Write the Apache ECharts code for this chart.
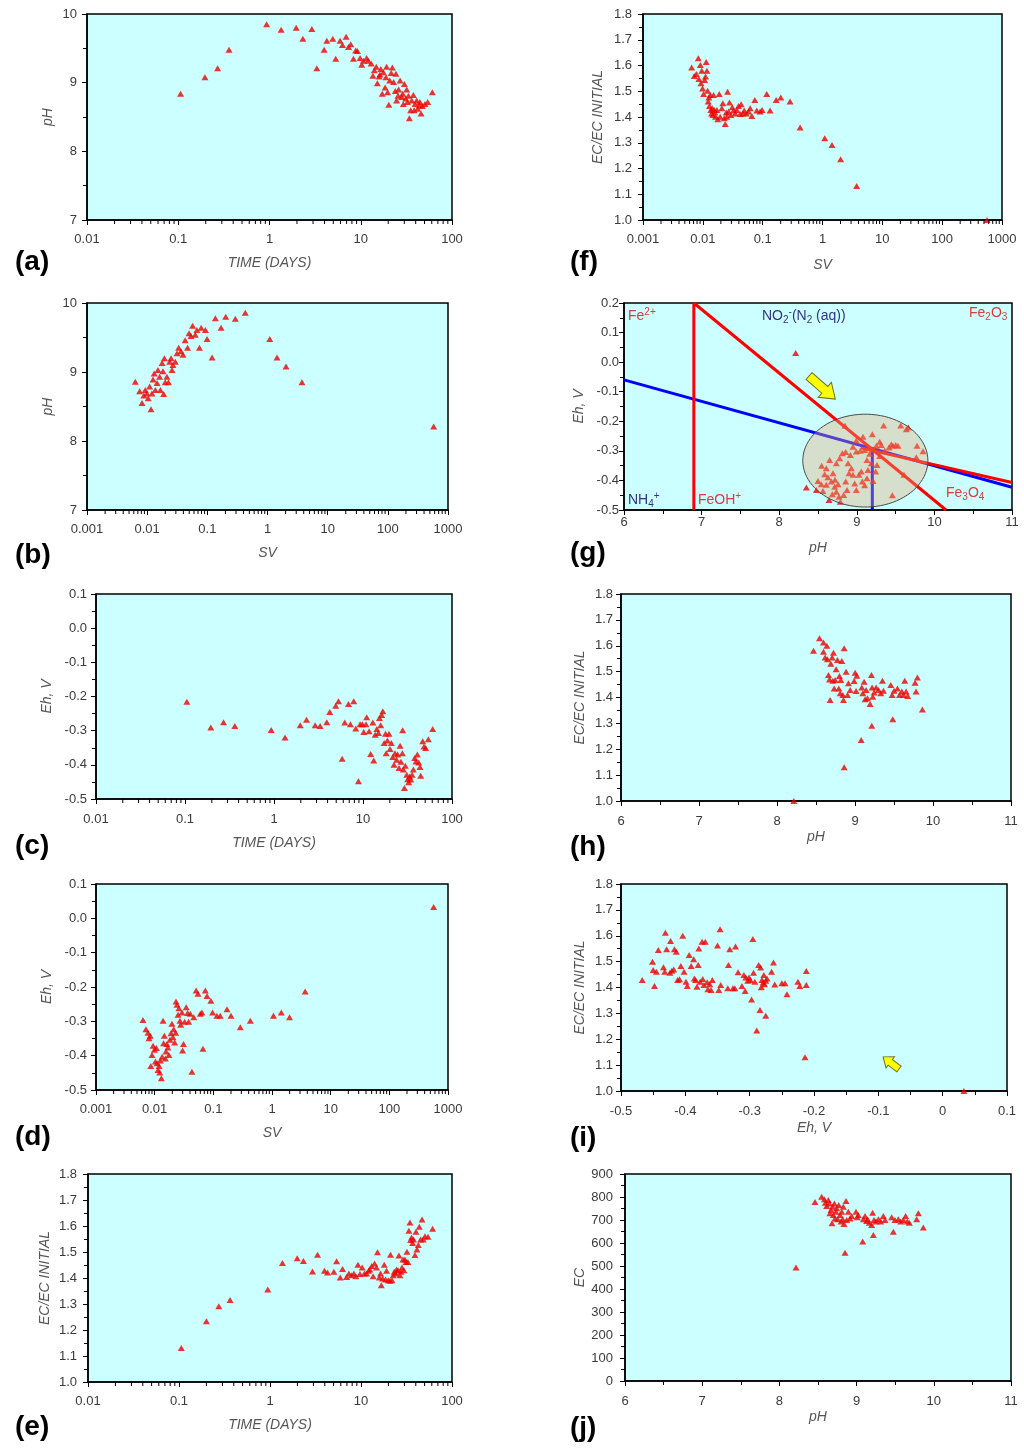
<!DOCTYPE html>
<html>
<head>
<meta charset="utf-8">
<script src="https://cdn.jsdelivr.net/npm/echarts@6/dist/echarts.min.js"></script>
<style>
html,body{margin:0;padding:0;background:#fff;}
#chart{width:1024px;height:1454px;}
</style>
</head>
<body>
<div id="chart"></div>
<script>
// ---------------- DATA ----------------
// (a) pH vs time (days)
const phVsTime = [[0.106,8.84],[0.196,9.08],[0.27,9.21],[0.36,9.48],[0.93,9.85],[1.34,9.77],[1.96,9.80],[2.32,9.64],[2.91,9.78],[3.30,9.21],[3.97,9.48],[4.25,9.61],[4.94,9.64],[5.32,9.35],[5.94,9.61],[6.3,9.55],[6.91,9.67],[7.33,9.52],[7.77,9.56],[8.31,9.35],[8.81,9.47],[9.2,9.46],[9.84,9.36],[10.25,9.26],[10.7,9.32],[11.6,9.36],[12.1,9.32],[13.0,9.28],[13.6,9.10],[14.1,9.18],[14.8,9.23],[15.2,8.99],[15.9,9.09],[16.2,9.12],[16.6,9.20],[17.2,8.84],[17.7,9.15],[18.5,8.93],[18.9,9.08],[19.2,9.23],[19.7,8.86],[20.3,8.68],[20.8,9.03],[21.6,9.14],[22.2,9.22],[22.9,9.01],[23.9,8.88],[24.3,9.13],[24.7,8.74],[25.6,8.81],[26.0,8.90],[27.0,9.03],[28.1,8.79],[28.8,8.84],[29.3,8.69],[30.1,8.98],[31.1,8.77],[31.9,8.90],[32.5,8.72],[33.3,8.81],[34.1,8.48],[35.2,8.60],[36.2,8.74],[37.7,8.82],[38.5,8.60],[39.4,8.69],[41.0,8.74],[42.1,8.62],[43.9,8.67],[44.5,8.72],[45.8,8.55],[47.3,8.66],[50.6,8.69],[54.2,8.72],[60.9,8.86]];
// (b) pH vs SV
const phVsSv = [[0.00635,8.86],[0.0075,8.72],[0.0082,8.55],[0.0088,8.66],[0.0093,8.74],[0.0099,8.69],[0.0104,8.62],[0.011,8.79],[0.0116,8.46],[0.012,8.69],[0.0125,8.89],[0.0131,8.98],[0.0137,8.74],[0.0146,8.84],[0.0151,9.03],[0.0161,8.93],[0.0166,8.74],[0.0177,9.13],[0.0183,9.01],[0.0188,8.68],[0.0193,9.20],[0.020,8.85],[0.0213,8.93],[0.0226,8.85],[0.0237,9.15],[0.025,9.20],[0.0259,9.03],[0.0268,9.10],[0.0294,9.15],[0.0314,9.27],[0.0334,9.35],[0.0365,9.30],[0.0394,9.25],[0.0428,9.46],[0.047,9.35],[0.0497,9.56],[0.0535,9.52],[0.057,9.67],[0.063,9.54],[0.067,9.61],[0.074,9.35],[0.079,9.64],[0.093,9.61],[0.099,9.48],[0.120,9.21],[0.136,9.78],[0.169,9.64],[0.202,9.80],[0.292,9.77],[0.427,9.86],[1.09,9.48],[1.44,9.21],[2.03,9.08],[3.74,8.85],[578,8.21]];
// (c) Eh vs time (days)
const ehVsTime = [[0.105,-0.215],[0.195,-0.291],[0.271,-0.275],[0.363,-0.286],[0.93,-0.298],[1.33,-0.320],[1.97,-0.284],[2.32,-0.268],[2.90,-0.284],[3.30,-0.286],[3.92,-0.275],[4.23,-0.245],[4.94,-0.227],[5.30,-0.214],[5.83,-0.382],[6.24,-0.276],[6.86,-0.222],[7.22,-0.281],[7.87,-0.214],[8.29,-0.294],[8.89,-0.448],[9.28,-0.281],[9.85,-0.281],[10.2,-0.304],[10.8,-0.281],[11.0,-0.261],[11.7,-0.302],[12.2,-0.368],[12.9,-0.276],[13.2,-0.387],[13.7,-0.312],[14.3,-0.295],[14.9,-0.307],[15.3,-0.263],[15.8,-0.284],[16.2,-0.254],[16.7,-0.243],[17.3,-0.336],[17.9,-0.309],[18.2,-0.366],[18.8,-0.329],[19.6,-0.309],[20.1,-0.354],[20.8,-0.336],[21.6,-0.377],[22.3,-0.400],[22.9,-0.366],[23.9,-0.385],[24.5,-0.370],[25.4,-0.409],[26.1,-0.344],[26.7,-0.391],[27.7,-0.366],[27.9,-0.299],[28.4,-0.414],[29.2,-0.468],[29.9,-0.403],[31.0,-0.429],[31.8,-0.442],[32.6,-0.451],[33.5,-0.434],[34.4,-0.443],[35.6,-0.429],[36.8,-0.414],[38.1,-0.380],[39.4,-0.390],[40.8,-0.370],[42.3,-0.393],[43.7,-0.406],[44.5,-0.432],[46.9,-0.331],[48.5,-0.346],[50.6,-0.351],[54.2,-0.325],[60.7,-0.295]];
// (d) Eh vs SV
const ehVsSv = [[0.00632,-0.296],[0.0071,-0.323],[0.0077,-0.333],[0.0080,-0.349],[0.0084,-0.342],[0.0086,-0.430],[0.0090,-0.398],[0.0094,-0.371],[0.0099,-0.383],[0.0103,-0.417],[0.0107,-0.378],[0.0110,-0.422],[0.0114,-0.442],[0.0119,-0.430],[0.0122,-0.449],[0.0125,-0.414],[0.0130,-0.466],[0.0134,-0.403],[0.0139,-0.298],[0.0142,-0.364],[0.0146,-0.342],[0.0152,-0.408],[0.0156,-0.388],[0.0162,-0.366],[0.0168,-0.376],[0.0175,-0.398],[0.0182,-0.354],[0.0190,-0.335],[0.0197,-0.307],[0.0205,-0.346],[0.0211,-0.323],[0.0219,-0.362],[0.0228,-0.333],[0.0231,-0.242],[0.0240,-0.252],[0.0250,-0.281],[0.0259,-0.262],[0.0270,-0.298],[0.0277,-0.310],[0.0292,-0.274],[0.0299,-0.385],[0.0310,-0.366],[0.0324,-0.301],[0.0345,-0.259],[0.0364,-0.276],[0.0379,-0.301],[0.0405,-0.278],[0.0432,-0.447],[0.0464,-0.288],[0.0509,-0.210],[0.0547,-0.220],[0.0600,-0.278],[0.064,-0.274],[0.0666,-0.380],[0.073,-0.210],[0.078,-0.226],[0.0909,-0.240],[0.097,-0.274],[0.115,-0.284],[0.131,-0.284],[0.171,-0.265],[0.200,-0.284],[0.288,-0.317],[0.427,-0.298],[1.06,-0.284],[1.44,-0.274],[1.99,-0.288],[3.68,-0.213],[570,0.033]];
// (e) EC/EC initial vs time (days)
const ecRatioVsTime = [[0.106,1.131],[0.200,1.234],[0.274,1.291],[0.364,1.315],[0.946,1.356],[1.37,1.458],[1.99,1.476],[2.33,1.465],[2.93,1.425],[3.33,1.489],[3.97,1.428],[4.29,1.421],[5.03,1.424],[5.39,1.464],[5.91,1.402],[6.27,1.435],[6.94,1.404],[7.36,1.417],[7.87,1.411],[8.35,1.417],[8.79,1.407],[9.25,1.451],[9.73,1.415],[10.3,1.440],[10.9,1.417],[11.5,1.417],[12.1,1.428],[12.5,1.433],[13.1,1.446],[13.6,1.407],[14.1,1.456],[14.8,1.440],[15.2,1.499],[15.9,1.402],[16.4,1.417],[16.7,1.372],[17.3,1.398],[18.0,1.451],[18.6,1.394],[19.1,1.428],[19.9,1.391],[20.8,1.389],[21.1,1.489],[21.9,1.391],[22.6,1.411],[23.2,1.424],[24.0,1.417],[24.6,1.433],[25.5,1.430],[26.1,1.487],[26.8,1.411],[27.5,1.424],[28.2,1.440],[28.9,1.471],[29.6,1.430],[30.4,1.471],[31.2,1.462],[32.0,1.501],[32.8,1.462],[33.6,1.582],[34.5,1.613],[35.1,1.546],[36.0,1.556],[36.9,1.535],[37.8,1.548],[39.2,1.488],[40.2,1.578],[41.2,1.510],[42.6,1.527],[43.7,1.597],[45.2,1.548],[46.8,1.625],[48.4,1.548],[50.5,1.561],[54.5,1.559],[61.2,1.589]];
// (f) EC/EC initial vs SV
const ecRatioVsSv = [[0.0065,1.592],[0.0072,1.559],[0.0078,1.567],[0.0084,1.628],[0.0086,1.548],[0.0091,1.602],[0.0093,1.531],[0.0096,1.580],[0.0099,1.511],[0.0103,1.489],[0.0107,1.544],[0.0111,1.557],[0.0114,1.614],[0.0117,1.580],[0.0120,1.502],[0.0123,1.460],[0.0126,1.476],[0.0129,1.443],[0.0133,1.485],[0.0136,1.427],[0.0140,1.414],[0.0144,1.434],[0.0147,1.408],[0.0151,1.485],[0.0155,1.427],[0.0159,1.417],[0.0163,1.401],[0.0172,1.427],[0.0178,1.391],[0.0188,1.489],[0.0195,1.401],[0.0208,1.434],[0.0216,1.453],[0.0228,1.395],[0.0237,1.373],[0.0246,1.417],[0.0252,1.401],[0.0259,1.498],[0.0269,1.421],[0.0279,1.456],[0.0294,1.408],[0.0310,1.438],[0.0326,1.425],[0.0347,1.414],[0.0370,1.427],[0.0395,1.443],[0.0421,1.412],[0.0437,1.450],[0.0466,1.414],[0.0491,1.425],[0.0530,1.414],[0.0580,1.421],[0.0618,1.434],[0.0659,1.404],[0.0739,1.466],[0.0798,1.425],[0.0907,1.421],[0.098,1.427],[0.117,1.489],[0.133,1.425],[0.168,1.466],[0.201,1.476],[0.287,1.460],[0.422,1.359],[1.09,1.317],[1.44,1.291],[2.01,1.236],[3.72,1.132],[563,1.000]];
// (g) Eh vs pH
const ehVsPh = [[8.212,0.031],[8.848,-0.215],[9.080,-0.252],[9.200,-0.244],[9.346,-0.214],[9.445,-0.278],[9.566,-0.214],[9.638,-0.227],[9.664,-0.221],[9.776,-0.283],[9.853,-0.301],[9.767,-0.322],[9.608,-0.381],[9.458,-0.450],[9.466,-0.283],[9.501,-0.280],[9.531,-0.283],[9.295,-0.269],[9.316,-0.280],[9.252,-0.283],[9.217,-0.295],[9.166,-0.310],[9.131,-0.331],[9.101,-0.297],[9.045,-0.300],[8.994,-0.265],[8.951,-0.286],[8.917,-0.314],[8.857,-0.304],[8.814,-0.308],[8.779,-0.325],[8.736,-0.342],[8.650,-0.331],[8.607,-0.359],[8.547,-0.350],[8.586,-0.379],[8.628,-0.389],[8.672,-0.404],[8.693,-0.376],[8.715,-0.421],[8.736,-0.438],[8.771,-0.455],[8.788,-0.472],[8.831,-0.449],[8.857,-0.404],[8.874,-0.432],[8.900,-0.376],[8.930,-0.359],[8.973,-0.410],[8.994,-0.432],[9.028,-0.381],[9.058,-0.370],[9.071,-0.404],[9.101,-0.416],[9.131,-0.393],[9.144,-0.365],[9.187,-0.342],[9.209,-0.402],[9.243,-0.370],[9.260,-0.348],[8.350,-0.424],[8.479,-0.432],[8.500,-0.402],[8.543,-0.413],[8.564,-0.436],[8.607,-0.415],[8.642,-0.466],[8.685,-0.447],[8.719,-0.398],[8.758,-0.413],[8.951,-0.381],[8.887,-0.342],[9.295,-0.317],[9.359,-0.299],[9.415,-0.289],[8.994,-0.302]];
// (h) EC/EC initial vs pH
const ecRatioVsPh = [[8.468,1.581],[8.545,1.629],[8.596,1.613],[8.596,1.577],[8.617,1.555],[8.639,1.600],[8.647,1.548],[8.660,1.487],[8.673,1.470],[8.681,1.390],[8.690,1.530],[8.707,1.555],[8.716,1.465],[8.724,1.573],[8.733,1.435],[8.746,1.468],[8.758,1.509],[8.775,1.545],[8.792,1.435],[8.801,1.483],[8.810,1.416],[8.818,1.468],[8.831,1.541],[8.844,1.410],[8.852,1.390],[8.861,1.590],[8.861,1.130],[8.886,1.500],[8.904,1.410],[8.916,1.455],[8.938,1.429],[8.989,1.464],[9.002,1.496],[9.014,1.425],[9.023,1.484],[9.079,1.236],[9.087,1.439],[9.100,1.416],[9.117,1.461],[9.130,1.393],[9.142,1.429],[9.160,1.397],[9.194,1.375],[9.211,1.487],[9.215,1.291],[9.219,1.439],[9.228,1.403],[9.245,1.419],[9.271,1.439],[9.301,1.429],[9.331,1.416],[9.352,1.465],[9.365,1.426],[9.459,1.448],[9.476,1.410],[9.484,1.316],[9.501,1.426],[9.544,1.435],[9.570,1.410],[9.600,1.423],[9.621,1.410],[9.638,1.465],[9.655,1.423],[9.676,1.406],[9.770,1.457],[9.783,1.423],[9.800,1.477],[9.864,1.354],[8.216,1.000]];
// (i) EC/EC initial vs Eh
const ecRatioVsEh = [[-0.467,1.429],[-0.451,1.500],[-0.450,1.468],[-0.448,1.406],[-0.445,1.461],[-0.442,1.545],[-0.434,1.478],[-0.432,1.461],[-0.431,1.612],[-0.429,1.548],[-0.424,1.457],[-0.423,1.580],[-0.421,1.465],[-0.418,1.470],[-0.417,1.548],[-0.414,1.538],[-0.412,1.429],[-0.409,1.432],[-0.407,1.483],[-0.404,1.600],[-0.402,1.461],[-0.399,1.422],[-0.397,1.406],[-0.394,1.526],[-0.391,1.483],[-0.387,1.509],[-0.386,1.435],[-0.384,1.429],[-0.382,1.403],[-0.380,1.487],[-0.379,1.551],[-0.377,1.422],[-0.374,1.577],[-0.373,1.433],[-0.371,1.410],[-0.369,1.577],[-0.366,1.420],[-0.365,1.393],[-0.362,1.413],[-0.360,1.390],[-0.358,1.429],[-0.350,1.562],[-0.348,1.390],[-0.346,1.625],[-0.345,1.410],[-0.334,1.397],[-0.333,1.487],[-0.331,1.548],[-0.326,1.397],[-0.323,1.397],[-0.322,1.558],[-0.318,1.459],[-0.312,1.406],[-0.309,1.448],[-0.307,1.386],[-0.306,1.439],[-0.303,1.426],[-0.301,1.439],[-0.299,1.429],[-0.297,1.354],[-0.295,1.587],[-0.294,1.457],[-0.292,1.422],[-0.289,1.234],[-0.286,1.487],[-0.284,1.313],[-0.283,1.477],[-0.282,1.401],[-0.281,1.429],[-0.279,1.419],[-0.278,1.448],[-0.277,1.413],[-0.275,1.426],[-0.275,1.291],[-0.273,1.435],[-0.266,1.461],[-0.263,1.497],[-0.261,1.412],[-0.250,1.416],[-0.245,1.416],[-0.242,1.374],[-0.225,1.422],[-0.222,1.406],[-0.214,1.130],[-0.212,1.464],[-0.212,1.410],[0.033,1.000]];
// (j) EC vs pH
const ecVsPh = [[8.215,493],[8.461,778],[8.547,801],[8.582,790],[8.595,775],[8.612,761],[8.634,787],[8.647,772],[8.655,729],[8.668,743],[8.681,686],[8.690,758],[8.698,722],[8.712,772],[8.720,707],[8.733,736],[8.742,751],[8.755,703],[8.768,765],[8.785,722],[8.798,693],[8.807,736],[8.820,703],[8.828,758],[8.837,683],[8.850,558],[8.863,783],[8.871,700],[8.893,736],[8.915,707],[8.936,717],[8.992,736],[9.009,712],[9.022,722],[9.079,606],[9.087,703],[9.109,717],[9.130,696],[9.143,703],[9.165,688],[9.195,678],[9.208,732],[9.217,635],[9.225,700],[9.251,693],[9.282,703],[9.312,693],[9.346,717],[9.368,700],[9.454,712],[9.476,649],[9.497,700],[9.540,703],[9.571,693],[9.605,700],[9.635,717],[9.657,693],[9.683,688],[9.778,703],[9.800,729],[9.864,667]];

// Eh-pH stability boundaries in (g)
const fe2FeohLine = [[6.9,-0.5],[6.9,0.2]];
const fe2Fe2o3Line = [[6.9,0.2],[10.15,-0.5]];
const fe2o3Fe3o4Line = [[9.05,-0.29],[11,-0.407]];
const no2Nh4Line = [[6,-0.06],[11,-0.423]];
const nh4VerticalLine = [[9.2,-0.293],[9.2,-0.5]];
const fieldEllipse = [9.11,-0.333,0.806,0.157]; // centre pH, centre Eh, half-width, half-height

const panelLetters = ['(a)','(b)','(c)','(d)','(e)','(f)','(g)','(h)','(i)','(j)'];

// ---------------- LAYOUT ----------------
const FONT = '"Liberation Sans", Arial, sans-serif';
const panels = [
 {data:phVsTime, g:[87,14,365,206], x:{log:true,min:0.01,max:100,name:'TIME (DAYS)',gap:36,m:13}, y:{min:7,max:10,iv:1,minor:2,name:'pH',gap:32,m:10,dec:0}, L:[15,262]},
 {data:phVsSv, g:[87,303,361,207], x:{log:true,min:0.001,max:1000,name:'SV',gap:36,m:13}, y:{min:7,max:10,iv:1,minor:2,name:'pH',gap:32,m:10,dec:0}, L:[15,555]},
 {data:ehVsTime, g:[96,594,356,205], x:{log:true,min:0.01,max:100,name:'TIME (DAYS)',gap:37,m:14}, y:{min:-0.5,max:0.1,iv:0.1,minor:2,name:'Eh, V',gap:42,m:9,dec:1}, L:[15,846]},
 {data:ehVsSv, g:[96,884,352,206], x:{log:true,min:0.001,max:1000,name:'SV',gap:36,m:13}, y:{min:-0.5,max:0.1,iv:0.1,minor:2,name:'Eh, V',gap:42,m:9,dec:1}, L:[15,1137]},
 {data:ecRatioVsTime, g:[88,1174,364,208], x:{log:true,min:0.01,max:100,name:'TIME (DAYS)',gap:36,m:13}, y:{min:1.0,max:1.8,iv:0.1,minor:2,name:'EC/EC INITIAL',gap:36,m:11,dec:1}, L:[15,1427]},
 {data:ecRatioVsSv, g:[643,14,359,206], x:{log:true,min:0.001,max:1000,name:'SV',gap:38,m:13}, y:{min:1.0,max:1.8,iv:0.1,minor:2,name:'EC/EC INITIAL',gap:38,m:11,dec:1}, L:[570,262]},
 {data:ehVsPh, g:[624,303,388,207], x:{min:6,max:11,iv:1,minor:2,name:'pH',gap:31,m:6,dec:0}, y:{min:-0.5,max:0.2,iv:0.1,minor:2,name:'Eh, V',gap:38,m:5,dec:1}, L:[570,553]},
 {data:ecRatioVsPh, g:[621,594,390,207], x:{min:6,max:11,iv:1,minor:2,name:'pH',gap:29,m:14,dec:0}, y:{min:1.0,max:1.8,iv:0.1,minor:2,name:'EC/EC INITIAL',gap:34,m:8,dec:1}, L:[570,847]},
 {data:ecRatioVsEh, g:[621,884,386,207], x:{min:-0.5,max:0.1,iv:0.1,minor:2,name:'Eh, V',gap:30,m:14,dec:-1}, y:{min:1.0,max:1.8,iv:0.1,minor:2,name:'EC/EC INITIAL',gap:34,m:8,dec:1}, L:[570,1138]},
 {data:ecVsPh, g:[625,1174,386,207], x:{min:6,max:11,iv:1,minor:2,name:'pH',gap:29,m:14,dec:0}, y:{min:0,max:900,iv:100,minor:2,name:'EC',gap:38,m:12,dec:0}, L:[570,1428]}
];

function fmt(dec){
  return function(v){
    if (dec === -1) return String(Math.round(v*10)/10);
    return Number(v).toFixed(dec);
  };
}
function logFmt(v){ return String(parseFloat(Number(v).toPrecision(3))); }

function makeAxis(spec, gi){
  const ax = {
    gridIndex: gi,
    min: spec.min, max: spec.max,
    name: spec.name, nameLocation: 'middle', nameGap: spec.gap,
    nameTextStyle: {fontFamily: FONT, fontSize: 14, fontStyle: 'italic', color: '#555'},
    axisLine: {show: true, onZero: false, lineStyle: {color: '#000', width: 1.5}},
    axisTick: {show: true, inside: false, length: 5, lineStyle: {color: '#000', width: 1}},
    axisLabel: {fontFamily: FONT, fontSize: 13, color: '#3a3a3a', margin: spec.m, showMinLabel: true, showMaxLabel: true, hideOverlap: false},
    splitLine: {show: false}
  };
  if (spec.log) {
    ax.type = 'log'; ax.logBase = 10; ax.axisLabel.formatter = logFmt;
  } else {
    ax.type = 'value'; ax.interval = spec.iv; ax.axisLabel.formatter = fmt(spec.dec);
    ax.minorTick = {show: true, splitNumber: spec.minor, length: 4, lineStyle: {color: '#000', width: 1}};
    ax.minorSplitLine = {show: false};
  }
  return ax;
}

const option = {animation: false, backgroundColor: '#fff', grid: [], xAxis: [], yAxis: [], series: [], graphic: []};

panels.forEach((p, i) => {
  option.grid.push({left: p.g[0], top: p.g[1], width: p.g[2], height: p.g[3], show: true,
    backgroundColor: '#ccffff', borderColor: '#000', borderWidth: 1.5, containLabel: false});
  option.xAxis.push(makeAxis(p.x, i));
  option.yAxis.push(makeAxis(p.y, i));
  if (p.x.log) {
    const minor = [];
    for (let d = p.x.min; d < p.x.max * 0.999; d *= 10) {
      for (let k = 2; k <= 9; k++) minor.push([parseFloat((k * d).toPrecision(3)), p.y.min]);
    }
    option.series.push({
      type: 'custom', xAxisIndex: i, yAxisIndex: i, data: minor, silent: true, clip: false, z: 4,
      renderItem: function(params, api){
        const c = api.coord([api.value(0), api.value(1)]);
        return {type: 'line', shape: {x1: c[0], y1: c[1], x2: c[0], y2: c[1] + 4}, style: {stroke: '#000', lineWidth: 1}};
      }
    });
  }
  option.graphic.push({type: 'text', x: p.L[0], y: p.L[1],
    style: {text: panelLetters[i], font: 'bold 28px ' + FONT, fill: '#000', verticalAlign: 'middle', align: 'left'}});
});

// stability lines in (g)
function bound(data, color){
  return {type: 'line', xAxisIndex: 6, yAxisIndex: 6, data: data, symbol: 'none', silent: true, z: 2,
    lineStyle: {color: color, width: 3}};
}
option.series.push(bound(no2Nh4Line, '#0000ff'));
option.series.push(bound(nh4VerticalLine, '#0000ff'));
option.series.push(bound(fe2FeohLine, '#ff0000'));
option.series.push(bound(fe2Fe2o3Line, '#ff0000'));
option.series.push(bound(fe2o3Fe3o4Line, '#ff0000'));

// scatter series
panels.forEach((p, i) => {
  option.series.push({type: 'scatter', xAxisIndex: i, yAxisIndex: i, data: p.data,
    symbol: 'triangle', symbolSize: [7, 6], itemStyle: {color: '#f00000'}, z: 3, silent: true});
});

// ellipse in (g)
option.series.push({
  type: 'custom', xAxisIndex: 6, yAxisIndex: 6, data: [[fieldEllipse[0], fieldEllipse[1]]], silent: true, z: 5,
  renderItem: function(params, api){
    const pts = [];
    for (let k = 0; k < 90; k++) {
      const t = k / 90 * Math.PI * 2;
      pts.push(api.coord([fieldEllipse[0] + fieldEllipse[2] * Math.cos(t), fieldEllipse[1] + fieldEllipse[3] * Math.sin(t)]));
    }
    return {type: 'polygon', shape: {points: pts}, style: {fill: 'rgba(232,170,120,0.38)', stroke: '#4a4a4a', lineWidth: 1}};
  }
});

// labels in (g)
const rich = {
  sub: {fontSize: 10, fontFamily: FONT, verticalAlign: 'bottom', lineHeight: 18, padding: [6,0,0,0]},
  sup: {fontSize: 10, fontFamily: FONT, verticalAlign: 'top', lineHeight: 18, padding: [0,0,6,0]},
  n: {fontSize: 14, fontFamily: FONT, lineHeight: 18}
};
function richColor(c){
  const r = {};
  for (const k in rich) r[k] = Object.assign({}, rich[k], {color: c});
  return r;
}
const redT = '#d83c3c', navyT = '#333388';
const gLabels = [
  ['{n|Fe}{sup|2+}', 628, 316, redT],
  ['{n|NO}{sub|2}{sup|-}{n|(N}{sub|2}{n| (aq))}', 762, 316, navyT],
  ['{n|Fe}{sub|2}{n|O}{sub|3}', 969, 313, redT],
  ['{n|NH}{sub|4}{sup|+}', 628, 500, navyT],
  ['{n|FeOH}{sup|+}', 698, 500, redT],
  ['{n|Fe}{sub|3}{n|O}{sub|4}', 946, 493, redT]
];
gLabels.forEach(l => {
  option.graphic.push({type: 'text', x: l[1], y: l[2], z: 10,
    style: {text: l[0], rich: richColor(l[3]), fill: l[3], verticalAlign: 'middle', align: 'left', font: '14px ' + FONT}});
});

// yellow arrows
option.graphic.push({type: 'polygon', x: 809, y: 376, rotation: -0.72, z: 10,
  shape: {points: [[0,-4.5],[21,-4.5],[21,-10],[35,0],[21,10],[21,4.5],[0,4.5]]},
  style: {fill: '#ffff00', stroke: '#6e6e2a', lineWidth: 1}});
option.graphic.push({type: 'polygon', x: 899, y: 1069, rotation: 2.49, z: 10,
  shape: {points: [[0,-3.5],[11,-3.5],[11,-7],[20,0],[11,7],[11,3.5],[0,3.5]]},
  style: {fill: '#ffff00', stroke: '#6e6e2a', lineWidth: 1}});

const chart = echarts.init(document.getElementById('chart'), null, {renderer: 'canvas'});
chart.setOption(option);
</script>
</body>
</html>
